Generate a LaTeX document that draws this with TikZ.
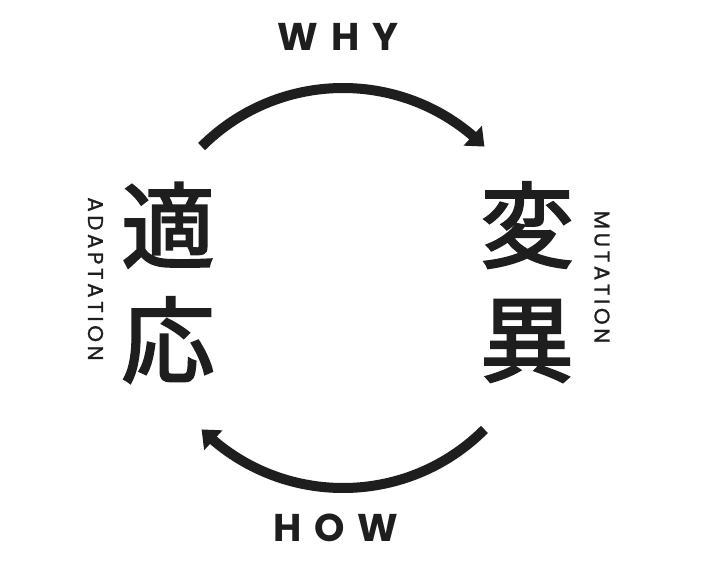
\documentclass[tikz,border=0pt]{standalone}
\usepackage{fontspec}
\setmainfont{Poppins}
\newfontfamily\cjk{Noto Sans CJK JP}
\usetikzlibrary{arrows.meta,bending,calc}
\definecolor{ink}{RGB}{30,30,30}
\tikzset{
  cyc/.style={line width=7.5pt, color=ink, -{Triangle[width=19.5pt,length=12pt,flex]}},
  big/.style={inner sep=0pt, text=ink, font=\cjk\fontsize{70}{70}\selectfont\addfontfeature{FakeBold=2.5}},
  head/.style={inner sep=0pt, text=ink, font=\bfseries\fontsize{29}{29}\selectfont\addfontfeature{LetterSpace=33}},
  side/.style={inner sep=0pt, text=ink, rotate=-90, font=\fontsize{16}{16}\selectfont\addfontfeature{LetterSpace=17,FakeBold=1.2}}
}
\begin{document}
\begin{tikzpicture}[x=0.75pt,y=0.75pt]
\useasboundingbox (0,0) rectangle (720,-567);
\fill[white] (0,0) rectangle (720,-567);
\coordinate (c) at (343,-288);
\coordinate (ts) at ($(c)+(135:150pt)$);
\coordinate (bs) at ($(c)+(-45:150pt)$);
\node[head] (why) at (338,-36.5) {WHY};
\node[head] (how) at (335.5,-527.5) {HOW};
\node[big] (k1) at (168,-225) {適};
\node[big] (k2) at (168,-340) {応};
\node[big] (k3) at (527,-225) {変};
\node[big] (k4) at (527,-341) {異};
\node[side] (adapt) at (95.5,-279) {ADAPTATION};
\node[side] (mut) at (602,-277) {MUTATION};
\draw[cyc] (ts) arc[start angle=135, end angle=45, radius=150pt];
\draw[cyc] (bs) arc[start angle=-45, end angle=-135, radius=150pt];
\end{tikzpicture}
\end{document}
